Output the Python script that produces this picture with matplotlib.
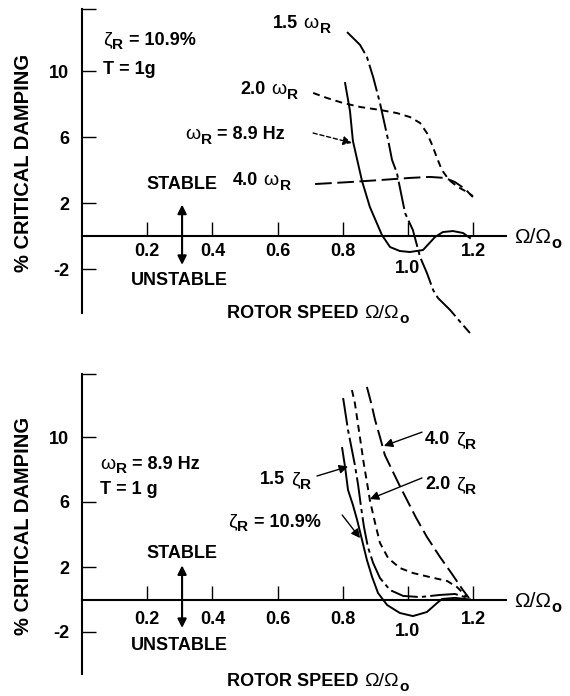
import matplotlib
matplotlib.use('Agg')
import matplotlib.pyplot as plt

plt.rcParams['font.family'] = ['Liberation Sans', 'DejaVu Sans']
plt.rcParams['font.weight'] = 'bold'
plt.rcParams['lines.scale_dashes'] = False

# rotor speed ticks
x_ticks = [0.2, 0.4, 0.6, 0.8, 1.0, 1.2]
x_tick_labels = ['0.2', '0.4', '0.6', '0.8', '1.0', '1.2']
y_ticks = [-2, 2, 6, 10]
y_tick_labels = ['-2', '2', '6', '10']

# upper plot: effect of rotor frequency (zeta_R = 10.9 %)
top_base_x = [0.807, 0.822, 0.831, 0.859, 0.883, 0.920, 0.945, 0.975, 1.006, 1.046, 1.083, 1.107, 1.138, 1.169, 1.190]
top_base_y = [9.27, 7.58, 5.76, 3.33, 1.76, 0.06, -0.67, -0.91, -0.97, -0.85, -0.06, 0.24, 0.30, 0.18, -0.12]

top_w15_x = [0.813, 0.853, 0.874, 0.893, 0.914, 0.939, 0.951, 0.966, 0.991, 1.015, 1.037, 1.058, 1.077, 1.092, 1.129, 1.160, 1.190]
top_w15_y = [12.36, 11.58, 10.85, 9.64, 8.06, 5.82, 4.61, 3.82, 1.39, 0.36, -1.27, -2.24, -3.27, -3.76, -4.48, -5.20, -5.88]

top_w20_x = [0.709, 0.752, 0.801, 0.853, 0.914, 0.966, 1.006, 1.037, 1.058, 1.074, 1.089, 1.104, 1.126, 1.153, 1.181, 1.199]
top_w20_y = [8.67, 8.36, 8.06, 7.82, 7.64, 7.45, 7.21, 6.85, 6.24, 5.52, 4.73, 4.00, 3.39, 2.97, 2.67, 2.42]

top_w40_x = [0.715, 0.822, 0.914, 1.006, 1.067, 1.113, 1.144, 1.175, 1.199]
top_w40_y = [3.15, 3.27, 3.39, 3.52, 3.58, 3.52, 3.27, 2.85, 2.36]

# lower plot: effect of rotor damping (omega_R = 8.9 Hz)
bot_base_x = [0.798, 0.807, 0.816, 0.831, 0.844, 0.859, 0.874, 0.890, 0.908, 0.936, 0.975, 1.015, 1.058, 1.089, 1.104, 1.144, 1.190]
bot_base_y = [9.32, 8.15, 6.74, 5.82, 4.89, 3.66, 2.43, 1.38, 0.40, -0.34, -0.83, -1.02, -0.77, -0.22, 0.03, 0.10, 0.0]

bot_z15_x = [0.801, 0.816, 0.825, 0.837, 0.847, 0.856, 0.865, 0.877, 0.893, 0.914, 0.945, 0.985, 1.037, 1.098, 1.144, 1.175, 1.190]
bot_z15_y = [12.4, 10.43, 9.51, 8.28, 7.05, 5.69, 4.46, 3.23, 2.25, 1.32, 0.58, 0.22, 0.15, 0.28, 0.34, 0.15, 0.03]

bot_z20_x = [0.828, 0.837, 0.847, 0.856, 0.865, 0.874, 0.883, 0.899, 0.914, 0.939, 0.975, 1.015, 1.067, 1.120, 1.150, 1.181]
bot_z20_y = [12.89, 12.09, 10.74, 9.51, 8.28, 7.23, 6.12, 4.71, 3.48, 2.55, 1.94, 1.63, 1.38, 1.14, 0.77, 0.15]

bot_z40_x = [0.874, 0.887, 0.899, 0.914, 0.929, 0.951, 0.975, 1.000, 1.025, 1.058, 1.098, 1.135, 1.166, 1.187]
bot_z40_y = [13.08, 12.09, 11.05, 10.0, 8.89, 7.97, 6.98, 6.00, 5.02, 3.85, 2.62, 1.57, 0.65, 0.09]

W, H = 570, 696
FS = 13
DASHDOT = (0, (20, 3, 3, 3))
SHORTDASH = (0, (5, 3.5))
LONGDASH = (0, (12, 4))
LW = 1.4


def rich(ax, x, y, parts, fs=FS):
    """Write a label piece by piece: 'n' bold text, 'g' plain greek, 's' bold subscript."""
    def props(kind):
        if kind == 's':
            return dict(fontsize=fs * 0.85, fontweight='bold')
        if kind == 'g':
            return dict(fontsize=fs + 1, fontweight='normal')
        return dict(fontsize=fs, fontweight='bold')

    prev = ax.text(x, y, parts[0][1], ha='left', va='baseline', **props(parts[0][0]))
    for kind, txt in parts[1:]:
        gap = 0.5
        if txt.startswith(' '):
            gap = 4
            txt = txt.lstrip()
        dy = -3.5 if kind == 's' else 0
        prev = ax.annotate(txt, xy=(1, y), xycoords=(prev, 'data'), xytext=(gap, dy),
                           textcoords='offset points', ha='left', va='baseline',
                           annotation_clip=False, **props(kind))
    return prev


def make_axes(fig, y0_px, unit_px, ylo, yhi):
    # place the axes so that data units map to fixed pixel sizes
    top_px = y0_px - yhi * unit_px
    bot_px = y0_px - ylo * unit_px
    ax = fig.add_axes([82 / W, 1 - bot_px / H, 1.35 * 326 / W, (bot_px - top_px) / H])
    ax.set_xlim(0, 1.35)
    ax.set_ylim(ylo, yhi)
    return ax


def style_axes(ax, spine_lo, spine_hi, label_y, label_y10, xlabel_y):
    ax.patch.set_alpha(0)
    ax.spines['top'].set_visible(False)
    ax.spines['right'].set_visible(False)
    ax.spines['left'].set_bounds(spine_lo, spine_hi)
    ax.spines['left'].set_linewidth(1.5)
    ax.spines['bottom'].set_position(('data', 0))
    ax.spines['bottom'].set_bounds(0, 1.30)
    ax.spines['bottom'].set_linewidth(1.5)
    ax.set_xticks(x_ticks)
    ax.set_xticklabels([])
    ax.set_yticks(y_ticks + [spine_hi])
    ax.set_yticklabels(y_tick_labels + [''])
    ax.tick_params(axis='x', direction='in', length=10, width=1)
    ax.tick_params(axis='y', direction='in', length=10, width=1, pad=9, labelsize=FS)
    for t, lab in zip(x_ticks, x_tick_labels):
        ax.text(t, label_y10 if lab == '1.0' else label_y, lab, ha='center', va='center', fontsize=FS)
    rich(ax, 1.325, -0.45, [('g', 'Ω/Ω'), ('s', 'o')], fs=FS + 1)
    rich(ax, 0.445, xlabel_y - 0.4, [('n', 'ROTOR SPEED'), ('g', ' Ω/Ω'), ('s', 'o')])


def stable_marker(ax, y_stable, y_hi, y_lo, y_unstable):
    ax.text(0.307, y_stable, 'STABLE', ha='center', va='center', fontsize=FS)
    ax.annotate('', xy=(0.307, y_hi), xytext=(0.307, y_lo),
                arrowprops=dict(arrowstyle='<|-|>', lw=1.5, color='black', mutation_scale=13,
                                shrinkA=0, shrinkB=0))
    ax.text(0.30, y_unstable, 'UNSTABLE', ha='center', va='center', fontsize=FS)


def pointer(ax, start, tip, ls='-'):
    ax.annotate('', xy=tip, xytext=start,
                arrowprops=dict(arrowstyle='-|>', lw=1.0, color='black', mutation_scale=13,
                                linestyle=ls, shrinkA=0, shrinkB=0))


fig = plt.figure(figsize=(W / 100, H / 100), dpi=100)

# ---- upper plot ----
ax1 = make_axes(fig, 236, 16.5, -6.2, 14.0)
style_axes(ax1, -4.65, 13.75, -0.95, -1.94, -4.6)
ax1.plot(top_base_x, top_base_y, color='black', lw=LW)
ax1.plot(top_w15_x, top_w15_y, color='black', lw=LW, linestyle=DASHDOT, clip_on=False)
ax1.plot(top_w20_x, top_w20_y, color='black', lw=LW, linestyle=SHORTDASH)
ax1.plot(top_w40_x, top_w40_y, color='black', lw=LW, linestyle=LONGDASH)

rich(ax1, 0.064, 11.6, [('g', 'ζ'), ('s', 'R'), ('n', ' = 10.9%')])
ax1.text(0.064, 10.1, 'T = 1g', ha='left', va='center', fontsize=FS)
rich(ax1, 0.586, 12.6, [('n', '1.5'), ('g', ' ω'), ('s', 'R')])
rich(ax1, 0.485, 8.6, [('n', '2.0'), ('g', ' ω'), ('s', 'R')])
rich(ax1, 0.316, 5.85, [('g', 'ω'), ('s', 'R'), ('n', ' = 8.9 Hz')])
rich(ax1, 0.463, 3.1, [('n', '4.0'), ('g', ' ω'), ('s', 'R')])
pointer(ax1, (0.709, 6.24), (0.828, 5.64), ls=(0, (3, 2)))
stable_marker(ax1, 3.1, 1.9, -1.75, -2.7)

# ---- lower plot ----
ax2 = make_axes(fig, 599.5, 16.25, -5.8, 14.0)
style_axes(ax2, -4.6, 13.85, -1.2, -2.0, -4.95)
ax2.plot(bot_base_x, bot_base_y, color='black', lw=LW)
ax2.plot(bot_z15_x, bot_z15_y, color='black', lw=LW, linestyle=DASHDOT)
ax2.plot(bot_z20_x, bot_z20_y, color='black', lw=LW, linestyle=SHORTDASH)
ax2.plot(bot_z40_x, bot_z40_y, color='black', lw=LW, linestyle=LONGDASH)

rich(ax2, 0.055, 8.06, [('g', 'ω'), ('s', 'R'), ('n', ' = 8.9 Hz')])
ax2.text(0.055, 6.74, 'T = 1 g', ha='left', va='center', fontsize=FS)
rich(ax2, 0.546, 7.08, [('n', '1.5'), ('g', ' ζ'), ('s', 'R')])
rich(ax2, 1.052, 9.54, [('n', '4.0'), ('g', ' ζ'), ('s', 'R')])
rich(ax2, 1.052, 6.77, [('n', '2.0'), ('g', ' ζ'), ('s', 'R')])
rich(ax2, 0.448, 4.49, [('g', 'ζ'), ('s', 'R'), ('n', ' = 10.9%')])
pointer(ax2, (0.721, 7.6), (0.816, 8.18))
pointer(ax2, (1.043, 10.3), (0.926, 9.45))
pointer(ax2, (1.043, 7.48), (0.883, 6.18))
pointer(ax2, (0.798, 5.2), (0.853, 3.78))
stable_marker(ax2, 2.8, 2.1, -1.75, -2.85)

# y-axis titles
fig.text(24 / W, 1 - 163 / H, '% CRITICAL DAMPING', rotation=90, ha='center', va='center', fontsize=14.5)
fig.text(24 / W, 1 - 526 / H, '% CRITICAL DAMPING', rotation=90, ha='center', va='center', fontsize=14.5)

fig.savefig('out.png', dpi=100)
